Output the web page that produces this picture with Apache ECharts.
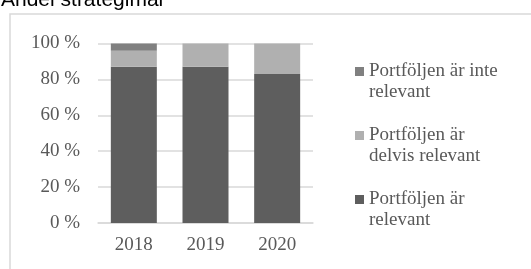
<!DOCTYPE html>
<html lang="sv">
<head>
    <meta charset="UTF-8">
    <script src="https://cdn.jsdelivr.net/npm/echarts@6/dist/echarts.min.js"></script>
    <title>Andel strategimål</title>
</head>
<body style="margin:0">
    <div id="main" style="width:531px;height:269px;background:#fff"></div>
    <script>
        var years = ['2018', '2019', '2020'];
        var relevant = [87, 87, 83];
        var partly = [9, 13, 17];
        var notRelevant = [4, 0, 0];
        var yTicks = [0, 20, 40, 60, 80, 100];

        var nameNot = 'Portföljen är inte\nrelevant';
        var namePartly = 'Portföljen är\ndelvis relevant';
        var nameRel = 'Portföljen är\nrelevant';

        var serif = '"Liberation Serif", "DejaVu Serif", serif';
        var myChart = echarts.init(document.getElementById('main'));

        var option = {
            animation: false,
            backgroundColor: '#fff',
            graphic: [
                {
                    type: 'rect',
                    shape: { x: 10, y: 14, width: 540, height: 280 },
                    style: { fill: 'none', stroke: '#d9d9d9', lineWidth: 1.5 },
                    silent: true
                },
                {
                    type: 'text',
                    x: 1, y: 11,
                    style: {
                        text: 'Andel strategimål',
                        font: '21px "Liberation Sans", Arial, sans-serif',
                        fill: '#000',
                        verticalAlign: 'bottom'
                    }
                }
            ],
            legend: {
                orient: 'vertical',
                left: 350,
                top: 35,
                itemWidth: 9,
                itemHeight: 9,
                itemGap: 1,
                icon: 'rect',
                data: [nameNot, namePartly, nameRel],
                // blank first line so the icon sits next to the first text line
                formatter: function (n) { return ' \n' + n; },
                textStyle: {
                    fontFamily: serif,
                    fontSize: 19,
                    color: '#595959',
                    lineHeight: 21
                }
            },
            grid: { left: 98, right: 218, top: 43.5, bottom: 46 },
            xAxis: {
                type: 'category',
                data: years,
                axisLine: { lineStyle: { color: '#d9d9d9', width: 1.5 } },
                axisTick: { show: false },
                axisLabel: { fontFamily: serif, fontSize: 19, color: '#595959', margin: 13 }
            },
            yAxis: {
                type: 'value',
                min: yTicks[0],
                max: yTicks[yTicks.length - 1],
                interval: 20,
                axisLine: { show: false },
                axisTick: { show: false },
                splitLine: { lineStyle: { color: '#d9d9d9', width: 1.5 } },
                axisLabel: {
                    fontFamily: serif, fontSize: 19, color: '#595959', margin: 18,
                    formatter: function (v) { return v + ' %'; }
                }
            },
            series: [
                { name: nameRel, type: 'bar', stack: 'a', barWidth: 46, data: relevant, itemStyle: { color: '#5e5e5e' } },
                { name: namePartly, type: 'bar', stack: 'a', barWidth: 46, data: partly, itemStyle: { color: '#b0b0b0' } },
                { name: nameNot, type: 'bar', stack: 'a', barWidth: 46, data: notRelevant, itemStyle: { color: '#808080' } }
            ]
        };
        myChart.setOption(option);
    </script>
</body>
</html>
